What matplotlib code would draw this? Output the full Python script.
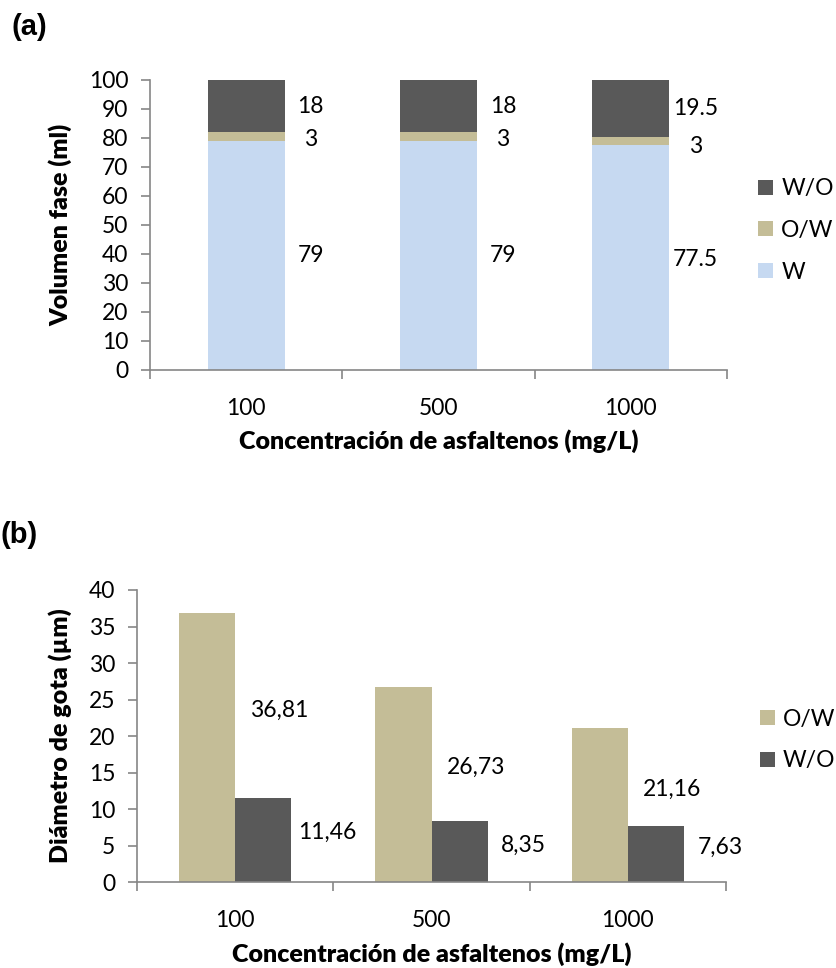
import matplotlib
matplotlib.use("Agg")
import matplotlib.pyplot as plt
import numpy as np

# Data
concentrations = ["100", "500", "1000"]
vol_w = [79, 79, 77.5]
vol_ow = [3, 3, 3]
vol_wo = [18, 18, 19.5]

diam_ow = [36.81, 26.73, 21.16]
diam_wo = [11.46, 8.35, 7.63]

# Styling
C_WO = "#595959"
C_OW = "#C4BD97"
C_W = "#C6D9F1"
AXIS_C = "#868686"
FONT = "Lato"
FS = 16.5
FS_LAB = 18
W_LAB = 800

plt.rcParams["font.family"] = [FONT, "DejaVu Sans"]

fig = plt.figure(figsize=(8.37, 9.68), dpi=100)
fig.patch.set_facecolor("white")


def style_axes(ax, ymax, ystep):
    for s in ("top", "right"):
        ax.spines[s].set_visible(False)
    for s in ("left", "bottom"):
        ax.spines[s].set_color(AXIS_C)
        ax.spines[s].set_linewidth(1.2)
    ax.set_xlim(-0.5, 2.5)
    ax.set_ylim(0, ymax)
    ax.set_yticks(np.arange(0, ymax + 0.1, ystep))
    ax.set_xticks(range(len(concentrations)))
    ax.set_xticklabels(concentrations)
    ax.set_xticks(np.arange(-0.5, 2.6, 1.0), minor=True)
    ax.tick_params(axis="y", length=6.5, width=1.2, color=AXIS_C, pad=9,
                   labelsize=FS)
    ax.tick_params(axis="x", which="major", length=0, pad=20, labelsize=FS)
    ax.tick_params(axis="x", which="minor", length=6.5, width=1.2,
                   color=AXIS_C)


x = np.arange(len(concentrations))

# (a) Stacked phase volumes
ax1 = fig.add_axes([0.1792, 0.6178, 0.6894, 0.2996])
style_axes(ax1, 100, 10)
bw = 0.4
b_w = ax1.bar(x, vol_w, bw, color=C_W, label="W", zorder=2)
b_ow = ax1.bar(x, vol_ow, bw, bottom=vol_w, color=C_OW, label="O/W", zorder=2)
bottom_wo = [a + b for a, b in zip(vol_w, vol_ow)]
b_wo = ax1.bar(x, vol_wo, bw, bottom=bottom_wo, color=C_WO, label="W/O",
               zorder=2)

label_dx_a = 0.335
for i in range(len(x)):
    segs = [(0, vol_w[i]), (vol_w[i], vol_ow[i]), (bottom_wo[i], vol_wo[i])]
    nudges = [0, -1.0, 0]
    if i == 2:
        nudges = [-0.6, -2.0, 0]
    for (b, h), dy in zip(segs, nudges):
        ax1.text(x[i] + label_dx_a, b + h / 2 + dy, f"{h:g}", ha="center",
                 va="center", fontsize=FS)

ax1.set_ylabel("Volumen fase (ml)", fontsize=FS_LAB, fontweight=W_LAB)
ax1.yaxis.set_label_coords(-0.135, 0.5)
ax1.set_xlabel("Concentración de asfaltenos (mg/L)", fontsize=FS_LAB,
               fontweight=W_LAB)
ax1.xaxis.set_label_coords(0.5, -0.205)
ax1.xaxis.label.set_va("top")

fig.legend(handles=[b_wo, b_ow, b_w], labels=["W/O", "O/W", "W"],
           loc="center left", bbox_to_anchor=(0.906, 0.762),
           frameon=False, fontsize=FS, handlelength=0.65,
           handleheight=0.65, handletextpad=0.35, labelspacing=0.9,
           borderpad=0, borderaxespad=0)

# (b) Droplet diameter
ax2 = fig.add_axes([0.1637, 0.0888, 0.7037, 0.3017])
style_axes(ax2, 40, 5)
gw = 0.286
r_ow = ax2.bar(x - gw / 2, diam_ow, gw, color=C_OW, label="O/W", zorder=2)
r_wo = ax2.bar(x + gw / 2, diam_wo, gw, color=C_WO, label="W/O", zorder=2)

ow_label_y = [23.5, 15.7, 12.7]
wo_label_y = [6.8, 5.0, 4.8]
for i in range(len(x)):
    ax2.text(x[i] + 0.225, ow_label_y[i], f"{diam_ow[i]:.2f}".replace(".", ","),
             ha="center", va="center", fontsize=FS)
    ax2.text(x[i] + 0.47, wo_label_y[i], f"{diam_wo[i]:.2f}".replace(".", ","),
             ha="center", va="center", fontsize=FS)

ax2.set_ylabel("Diámetro de gota (µm)", fontsize=FS_LAB, fontweight=W_LAB)
ax2.yaxis.set_label_coords(-0.11, 0.5)
ax2.set_xlabel("Concentración de asfaltenos (mg/L)", fontsize=FS_LAB,
               fontweight=W_LAB)
ax2.xaxis.set_label_coords(0.5, -0.205)
ax2.xaxis.label.set_va("top")

fig.legend(handles=[r_ow, r_wo], labels=["O/W", "W/O"],
           loc="center left", bbox_to_anchor=(0.908, 0.2355),
           frameon=False, fontsize=FS, handlelength=0.65,
           handleheight=0.65, handletextpad=0.35, labelspacing=0.9,
           borderpad=0, borderaxespad=0)

# Panel tags
fig.text(0.014, 0.987, "(a)", fontsize=21, fontweight="bold",
         family="Liberation Sans", ha="left", va="top")
fig.text(0.0, 0.462, "(b)", fontsize=21, fontweight="bold",
         family="Liberation Sans", ha="left", va="top")

fig.savefig("out.png", dpi=100, facecolor="white")
